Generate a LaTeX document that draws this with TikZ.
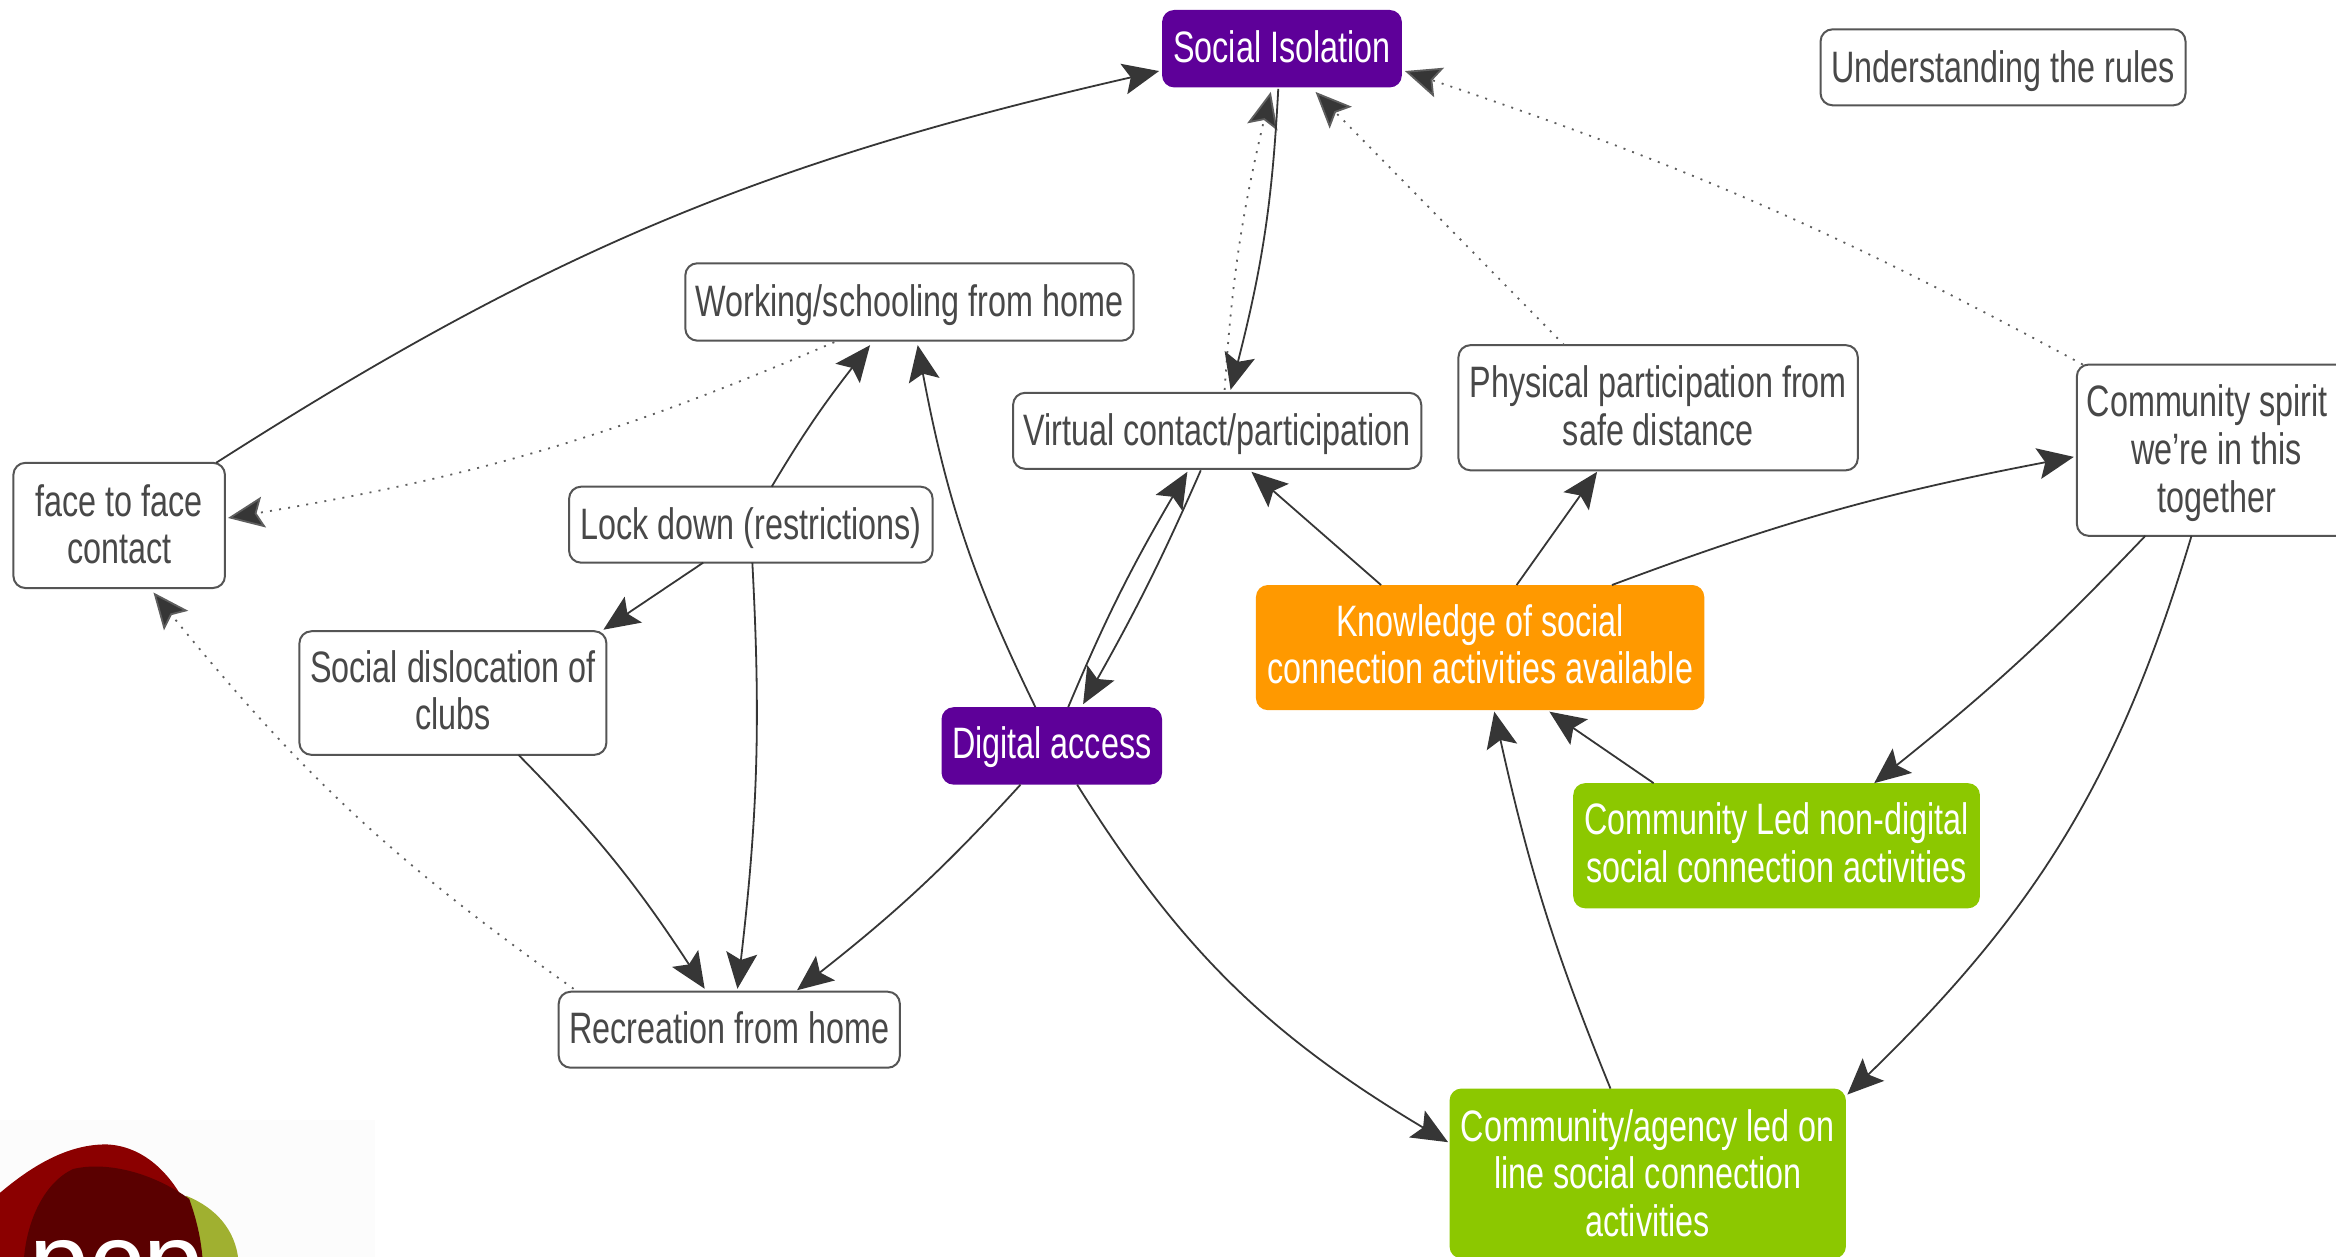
\documentclass[tikz,border=0pt]{standalone}
\usepackage{fontspec}
\setmainfont[FakeStretch=0.735]{Liberation Sans}
\newfontfamily\logofont{Liberation Sans}
\usetikzlibrary{arrows.meta,bending}
\definecolor{txt}{HTML}{484848}
\definecolor{bord}{HTML}{555555}
\definecolor{purp}{HTML}{5E0099}
\definecolor{orng}{HTML}{FF9900}
\definecolor{grn}{HTML}{8CC800}
\definecolor{arrowc}{HTML}{363636}
\tikzset{
  box/.style={draw=bord,line width=1pt,rounded corners=6pt,fill=white,text=txt,inner sep=0pt,align=center,
    font=\fontsize{22}{23.8}\selectfont},
  wbox/.style={box,draw=none,text=white},
  base/.style={text depth=4.6pt,text height={4.6pt+2*#1pt}},
  arr/.style={draw=arrowc,line width=0.9pt,-{Stealth[length=18pt,width=15.5pt,inset=3.5pt,fill=arrowc]}},
  dot/.style={arr,draw=arrowc!80,dash pattern=on 1pt off 3.6pt}
}
\begin{document}
\begin{tikzpicture}[x=0.745pt,y=0.745pt]
\useasboundingbox (0,0) rectangle (1568,843.7);
\clip (0,0) rectangle (1568,843.7);
% logo
\fill[white!99!black] (0,0) rectangle (252,92);
\fill[fill={rgb,255:red,160;green,176;blue,48}] (125,41) .. controls (145,33) and (158,18) .. (160,-2) -- (125,-2) -- cycle;
\fill[fill={rgb,255:red,139;green,0;blue,0}] (0,43) .. controls (20,60) and (45,76) .. (72,75.5) .. controls (105,74) and (130,40) .. (136,-2) -- (0,-2) -- cycle;
\fill[fill={rgb,255:red,90;green,0;blue,0}] (16,-2) .. controls (18,25) and (30,50) .. (49,59) .. controls (70,64) and (100,58) .. (127,39) .. controls (132,25) and (135,12) .. (136,-2) -- cycle;
\node[anchor=base,text=white,inner sep=0pt,font=\logofont\fontsize{54}{54}\selectfont] (logo) at (78,-28) {pcp};
% nodes
\node[wbox,fill=purp,minimum width=119.9pt,minimum height=38.7pt,base=7] (si) at (860.5,844-33) {Social Isolation};
\node[box,minimum width=182.5pt,minimum height=38pt,base=7.4] (ur) at (1344.5,844-45.5) {Understanding the rules};
\node[box,minimum width=224.2pt,minimum height=38.7pt,base=7.4] (wsh) at (610.5,844-203) {Working/schooling from home};
\node[box,minimum width=204.1pt,minimum height=38pt,base=7.4] (vcp) at (817,844-289.5) {Virtual contact/participation};
\node[box,minimum width=199.7pt,minimum height=62.6pt,text depth=2pt] (pp) at (1113,844-274) {Physical participation from\\safe distance};
\node[box,minimum width=140pt,minimum height=85.7pt,text height=66.5pt] (cs) at (1488,844-302.5) {Community spirit\hspace*{9.7pt}\\we're in this\\together};
\node[box,minimum width=105.8pt,minimum height=62.6pt,text depth=1.2pt] (fc) at (80,844-353) {face to face\\contact};
\node[box,minimum width=181.8pt,minimum height=38pt,base=7.4] (ld) at (504,844-352.5) {Lock down (restrictions)};
\node[box,minimum width=153.5pt,minimum height=61.8pt,text depth=3pt] (sdc) at (304,844-465.5) {Social dislocation of\\clubs};
\node[wbox,fill=purp,minimum width=110.3pt,minimum height=38.7pt,base=6.5] (da) at (706,844-501) {Digital access};
\node[wbox,fill=orng,minimum width=224.2pt,minimum height=62.6pt,text depth=3.4pt] (kn) at (993.5,844-435) {Knowledge of social\\connection activities available};
\node[wbox,fill=grn,minimum width=203.4pt,minimum height=62.6pt,text depth=3.4pt] (cl) at (1192.5,844-568) {Community Led non-digital\\social connection activities};
\node[box,minimum width=170.6pt,minimum height=38pt,base=7] (rh) at (489.5,844-691.5) {Recreation from home};
\node[wbox,fill=grn,minimum width=198.2pt,minimum height=85pt,text depth=0.5pt] (ca) at (1106,844-788) {Community/agency led on\\line social connection\\activities};
% connectors
\draw[arr] ([shift={(65,42)}]fc.center) to[bend left=10] ([shift={(-82.5,-15)}]si.center);
\draw[dot] ([shift={(-50.5,-27)}]wsh.center) to[bend left=7] ([shift={(73,5)}]fc.center);
\draw[arr] ([shift={(14,25.5)}]ld.center) to[bend left=4] ([shift={(-26.5,-29)}]wsh.center);
\draw[arr] ([shift={(-32,-25.5)}]ld.center) to ([shift={(101,42.5)}]sdc.center);
\draw[arr] ([shift={(1,-25.5)}]ld.center) to[bend left=5] ([shift={(5.5,27.5)}]rh.center);
\draw[arr] ([shift={(44,-41.5)}]sdc.center) to[bend left=6] ([shift={(-16.5,27.5)}]rh.center);
\draw[arr] ([shift={(-21,-26)}]da.center) to[bend left=5] ([shift={(45.5,26.5)}]rh.center);
\draw[arr] ([shift={(-11,26)}]da.center) to[bend left=8] ([shift={(5.5,-29)}]wsh.center);
\draw[arr] ([shift={(11,26)}]da.center) to[bend left=4] ([shift={(-20,-27.5)}]vcp.center);
\draw[arr] ([shift={(-11,-26.5)}]vcp.center) to[bend left=3] ([shift={(21,28)}]da.center);
\draw[arr] ([shift={(17,-26)}]da.center) to[bend right=14] ([shift={(-134,21)}]ca.center);
\draw[dot] ([shift={(5,27.5)}]vcp.center) to[bend left=5] ([shift={(-7.5,-29)}]si.center);
\draw[arr] ([shift={(-2.5,-27)}]si.center) to[bend left=6] ([shift={(9,27.5)}]vcp.center);
\draw[dot] ([shift={(-63,42)}]pp.center) to ([shift={(22.5,-29)}]si.center);
\draw[dot] ([shift={(-90,57.5)}]cs.center) to[bend right=5] ([shift={(82.5,-15)}]si.center);
\draw[arr] ([shift={(-66.5,42)}]kn.center) to ([shift={(23,-27.5)}]vcp.center);
\draw[arr] ([shift={(24.5,42)}]kn.center) to ([shift={(-41,-43)}]pp.center);
\draw[arr] ([shift={(88.5,42)}]kn.center) to[bend left=5] ([shift={(-96,-4.5)}]cs.center);
\draw[arr] ([shift={(-82.5,42)}]cl.center) to ([shift={(46.5,-43)}]kn.center);
\draw[arr] ([shift={(-48,-57.5)}]cs.center) to[bend left=4] ([shift={(65.5,42)}]cl.center);
\draw[arr] ([shift={(-17,-57.5)}]cs.center) to[bend left=15] ([shift={(134,53)}]ca.center);
\draw[arr] ([shift={(-25,57)}]ca.center) to[bend left=5] ([shift={(9.5,-43)}]kn.center);
\draw[dot] ([shift={(-104.5,27.5)}]rh.center) to[bend left=8] ([shift={(23,-45)}]fc.center);
\end{tikzpicture}
\end{document}
